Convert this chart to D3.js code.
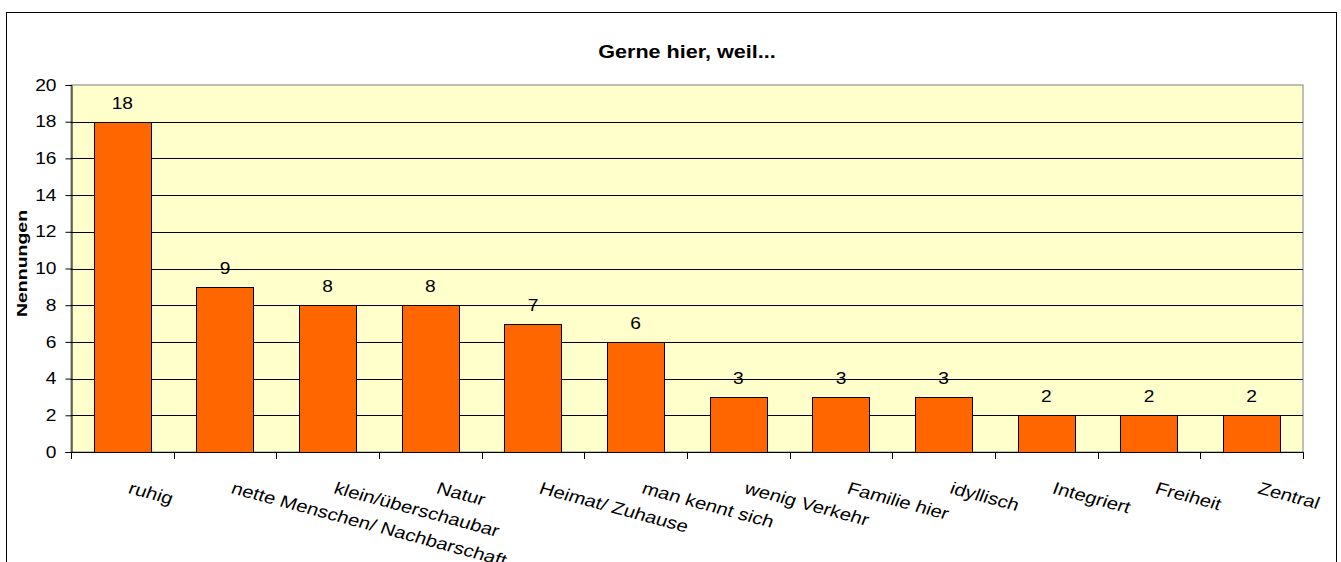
<!DOCTYPE html>
<html lang="de">
<head>
<meta charset="UTF-8">
<title>Gerne hier, weil...</title>
<style>
  body { margin: 0; background: #fff; }
  text { font-family: "Liberation Sans", Arial, sans-serif; fill: #000; }
</style>
</head>
<body>
<svg width="1341" height="562"></svg>
<script src="https://d3js.org/d3.v7.min.js"></script>
<script>
// Daten
const categories = ["ruhig", "nette Menschen/ Nachbarschaft", "klein/überschaubar", "Natur",
  "Heimat/ Zuhause", "man kennt sich", "wenig Verkehr", "Familie hier", "idyllisch",
  "Integriert", "Freiheit", "Zentral"];
const values = [18, 9, 8, 8, 7, 6, 3, 3, 3, 2, 2, 2];
const yTicks = [0, 2, 4, 6, 8, 10, 12, 14, 16, 18, 20];

const svg = d3.select("svg");
const plot = { left: 71, right: 1303, top: 85, bottom: 452 };
const sx = 1.2; // Schrift etwas breiter wie im Original

// äußerer Rahmen
svg.append("rect")
    .attr("x", 6.5).attr("y", 12.5)
    .attr("width", 1330).attr("height", 600)
    .attr("fill", "#fff").attr("stroke", "#000");

const x = d3.scaleBand()
    .domain(categories)
    .range([plot.left, plot.right])
    .paddingInner(0.44)
    .paddingOuter(0.22);

const y = d3.scaleLinear()
    .domain([0, 20])
    .range([plot.bottom, plot.top]);

// Plotfläche
svg.append("rect")
    .attr("x", plot.left).attr("y", plot.top)
    .attr("width", plot.right - plot.left).attr("height", plot.bottom - plot.top)
    .attr("fill", "#FFFFCC").attr("stroke", "#808080");

// Gitterlinien
svg.append("g")
    .selectAll("line")
    .data(yTicks.filter(d => d > 0 && d < 20))
    .join("line")
    .attr("x1", plot.left).attr("x2", plot.right)
    .attr("y1", d => Math.round(y(d)) + 0.5).attr("y2", d => Math.round(y(d)) + 0.5)
    .attr("stroke", "#000");

// Balken
svg.append("g")
    .selectAll("rect")
    .data(values)
    .join("rect")
    .attr("x", (d, i) => Math.round(x(categories[i])) + 0.5)
    .attr("y", d => Math.round(y(d)) + 0.5)
    .attr("width", Math.round(x.bandwidth()))
    .attr("height", d => Math.round(y(0)) - Math.round(y(d)))
    .attr("fill", "#FF6600")
    .attr("stroke", "#000");

// Werte
svg.append("g")
    .selectAll("text")
    .data(values)
    .join("text")
    .attr("transform", (d, i) => `translate(${x(categories[i]) + x.bandwidth() / 2},${y(d) - 13}) scale(${sx},1)`)
    .attr("text-anchor", "middle")
    .style("font-size", "16px")
    .text(d => d);

// Y-Achse
const yAxis = svg.append("g")
    .attr("transform", `translate(${plot.left + 0.5},0)`)
    .call(d3.axisLeft(y).tickValues(yTicks).tickSize(6).tickPadding(0));
yAxis.select(".domain").attr("stroke", "#000");
yAxis.selectAll(".tick text")
    .attr("font-family", null)
    .attr("font-size", null)
    .attr("x", null)
    .attr("transform", `translate(-15,0) scale(${sx},1)`)
    .style("font-size", "16px");

// X-Achse
const xAxisG = svg.append("g");
xAxisG.append("line")
    .attr("x1", plot.left).attr("x2", plot.right)
    .attr("y1", plot.bottom + 0.5).attr("y2", plot.bottom + 0.5)
    .attr("stroke", "#000");
xAxisG.selectAll("line.tick")
    .data(d3.range(categories.length + 1))
    .join("line")
    .attr("class", "tick")
    .attr("x1", i => Math.round(plot.left + i * x.step() * (plot.right - plot.left) / (x.step() * categories.length)) + 0.5)
    .attr("x2", i => Math.round(plot.left + i * x.step() * (plot.right - plot.left) / (x.step() * categories.length)) + 0.5)
    .attr("y1", plot.bottom).attr("y2", plot.bottom + 7)
    .attr("stroke", "#000");

svg.append("g")
    .selectAll("text")
    .data(categories)
    .join("text")
    .attr("transform", d => `translate(${x(d) + x.bandwidth() / 2 + 5},${plot.bottom + 41}) scale(${sx},1) rotate(17.8)`)
    .style("font-size", "17px")
    .text(d => d);

// Titel
svg.append("text")
    .attr("transform", `translate(687,58) scale(${sx},1)`)
    .attr("text-anchor", "middle")
    .style("font-size", "18px")
    .style("font-weight", "bold")
    .text("Gerne hier, weil...");

svg.append("text")
    .attr("transform", `translate(27,${(plot.top + plot.bottom) / 2 - 5}) rotate(-90) scale(1.3,1)`)
    .attr("text-anchor", "middle")
    .style("font-size", "15px")
    .style("font-weight", "bold")
    .text("Nennungen");
</script>
</body>
</html>
